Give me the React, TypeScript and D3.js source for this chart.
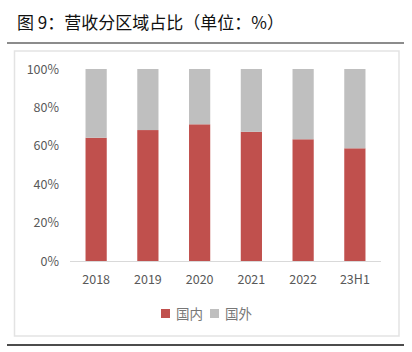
import React, { useEffect, useRef } from 'react'
import * as d3 from 'd3'

const years = ['2018', '2019', '2020', '2021', '2022', '23H1']
const domestic = [64.2, 68.2, 71.2, 67.3, 63.4, 58.7]
const overseas = domestic.map(v => 100 - v)
const yTicks = [0, 20, 40, 60, 80, 100]
const seriesNames = ['国内', '国外']
const colors = ['#C0504D', '#BFBFBF']

const W = 412
const H = 352

const App = () => {
  const svgRef = useRef<SVGSVGElement>(null)

  useEffect(() => {
    const svg = d3.select(svgRef.current)
    svg.selectAll('*').remove()

    const font = '"Microsoft YaHei", "Noto Sans CJK SC", "Open Sans", sans-serif'

    // title + rules
    svg.append('text')
      .attr('x', 17).attr('y', 29)
      .attr('font-family', '"Noto Sans CJK SC", sans-serif')
      .attr('font-size', 17)
      .attr('fill', '#111')
      .text('图 9：营收分区域占比（单位：%）')
    svg.append('line')
      .attr('x1', 7).attr('x2', 404).attr('y1', 43).attr('y2', 43)
      .attr('stroke', '#8c8c8c').attr('stroke-width', 2)
    svg.append('line')
      .attr('x1', 7).attr('x2', 404).attr('y1', 345).attr('y2', 345)
      .attr('stroke', '#111').attr('stroke-width', 1.5)

    // chart frame
    svg.append('rect')
      .attr('x', 14.5).attr('y', 51).attr('width', 384.5).attr('height', 285)
      .attr('fill', 'none').attr('stroke', '#e3e3e3').attr('stroke-width', 1.5)

    const x = d3.scaleBand().domain(years).range([70, 381]).paddingInner(0.59).paddingOuter(0.3)
    const y = d3.scaleLinear().domain([0, 100]).range([261, 69])

    const rows = years.map((yr, i) => ({ year: yr, 国内: domestic[i], 国外: overseas[i] }))
    const layers = d3.stack<any>().keys(seriesNames)(rows)

    svg.append('g')
      .selectAll('g')
      .data(layers)
      .join('g')
      .attr('fill', (_, i) => colors[i])
      .selectAll('rect')
      .data(d => d)
      .join('rect')
      .attr('x', d => x(d.data.year)!)
      .attr('width', x.bandwidth())
      .attr('y', d => y(d[1]))
      .attr('height', d => y(d[0]) - y(d[1]))

    // y axis labels
    const yAxis = d3.axisLeft(y).tickValues(yTicks).tickSize(0).tickPadding(0).tickFormat(d => `${d}%`)
    const gy = svg.append('g').attr('transform', 'translate(59,0)').call(yAxis)
    gy.select('.domain').remove()
    gy.selectAll('text').attr('font-family', font).attr('font-size', 12.5).attr('fill', '#595959')

    // x axis
    const xAxis = d3.axisBottom(x).tickSize(0).tickPadding(14)
    const gx = svg.append('g').attr('transform', 'translate(0,261)').call(xAxis)
    gx.select('.domain').attr('stroke', '#d9d9d9').attr('d', 'M70,0.5H381')
    gx.selectAll('text').attr('font-family', font).attr('font-size', 12.5).attr('fill', '#595959')

    // legend
    const legendX = [161, 210]
    const lg = svg.append('g')
    seriesNames.forEach((name, i) => {
      lg.append('rect')
        .attr('x', legendX[i]).attr('y', 309).attr('width', 9).attr('height', 9)
        .attr('fill', colors[i])
      lg.append('text')
        .attr('x', legendX[i] + 15).attr('y', 319)
        .attr('font-family', '"Noto Sans CJK SC", sans-serif')
        .attr('font-size', 13.5)
        .attr('fill', '#777')
        .text(name)
    })
  }, [])

  return (
    <svg ref={svgRef} width={W} height={H}
      style={{ position: 'absolute', left: 0, top: 0, background: '#fff' }} />
  )
}

export default App
